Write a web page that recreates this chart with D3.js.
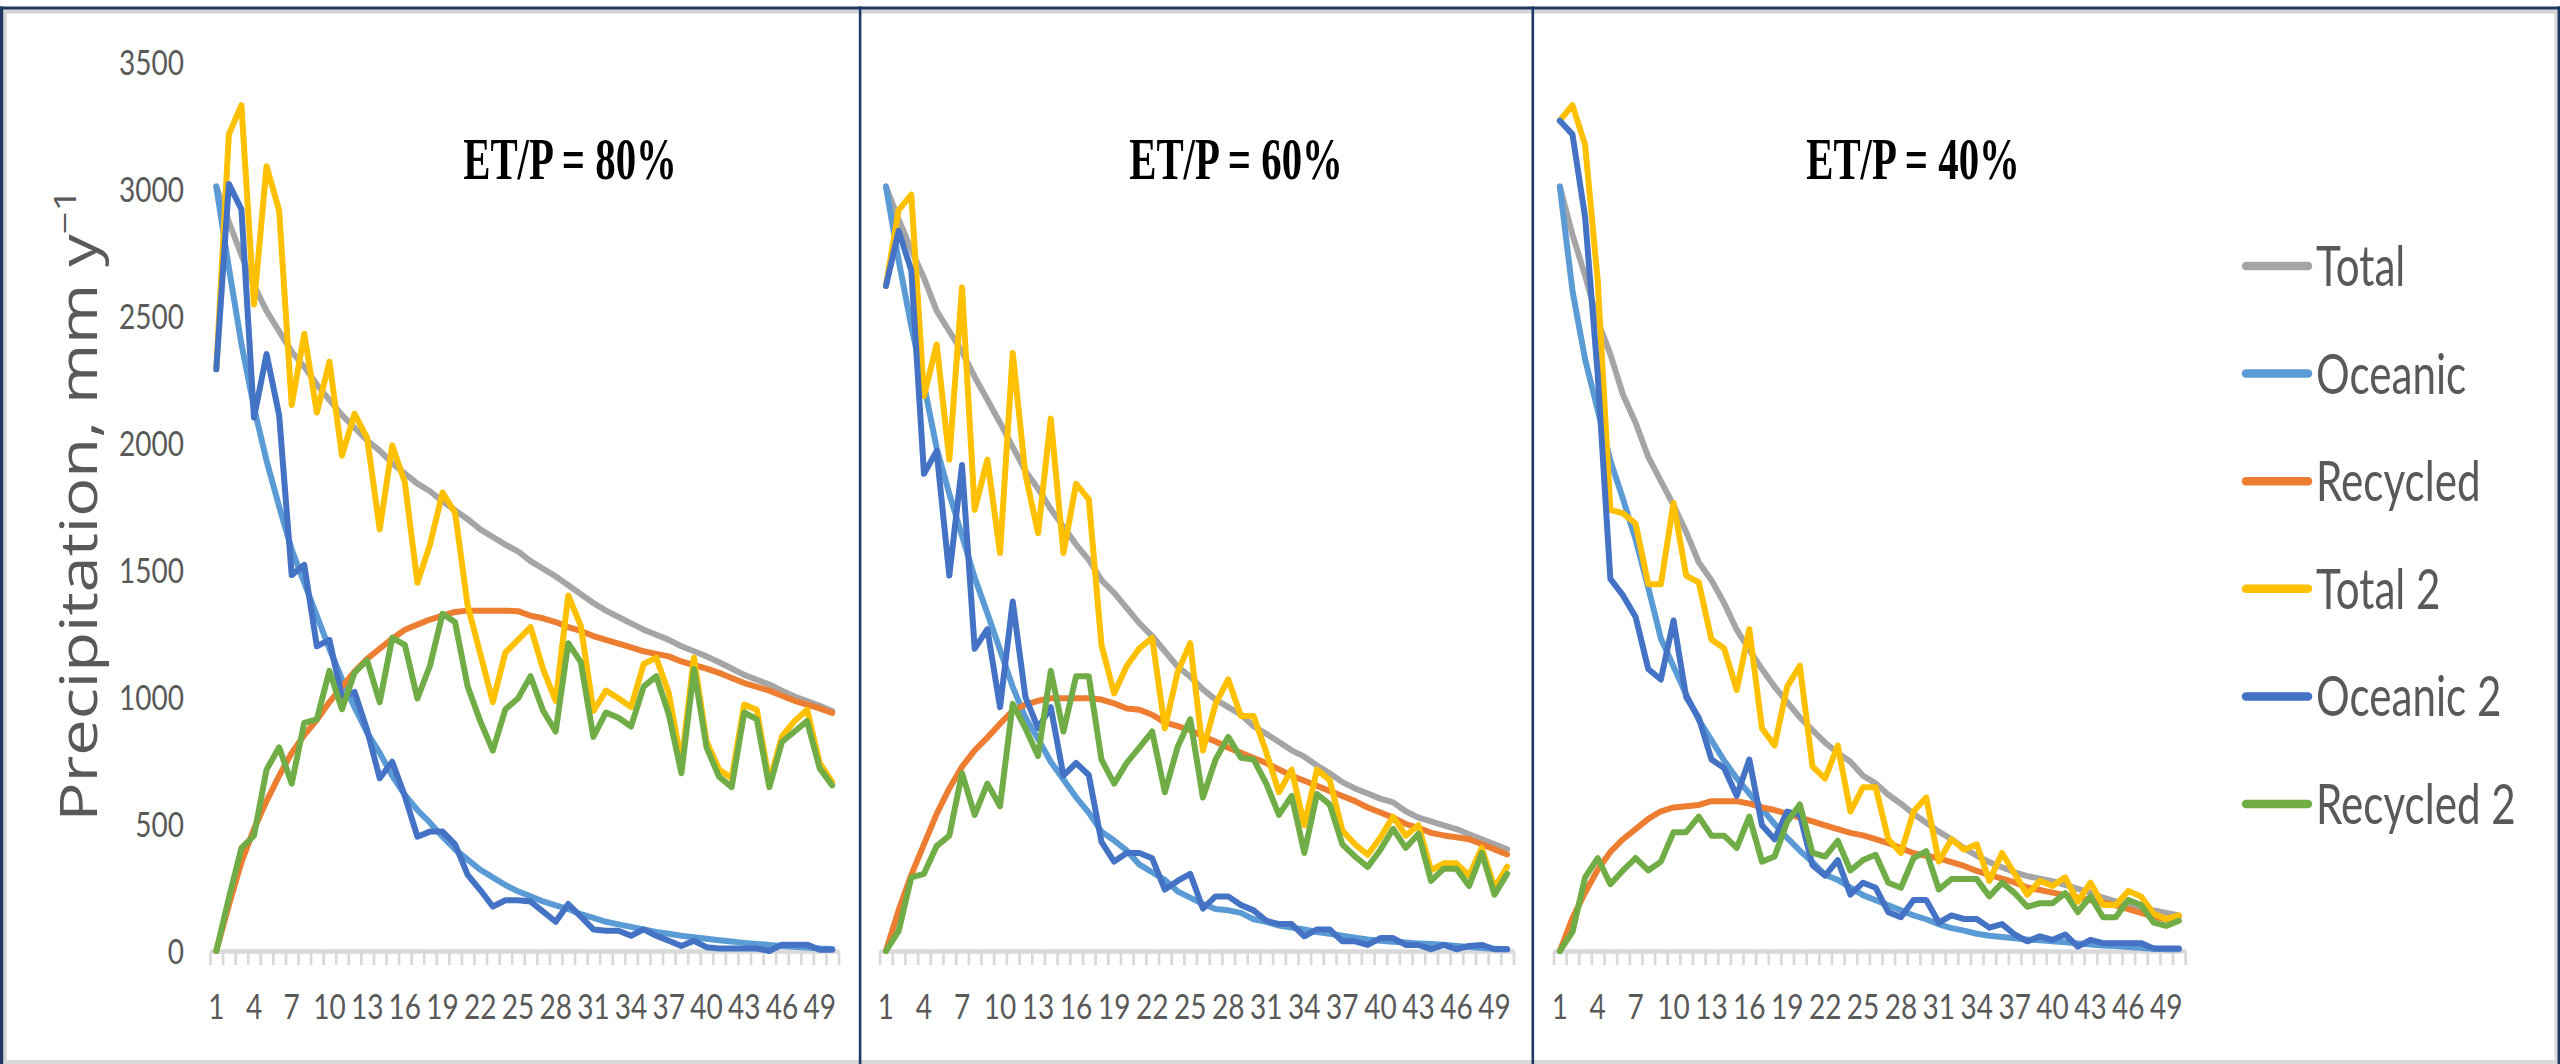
<!DOCTYPE html>
<html>
<head>
<meta charset="utf-8">
<script src="https://cdn.jsdelivr.net/npm/d3@7"></script>
<style>
  html, body { margin: 0; padding: 0; background: #ffffff; }
  svg { display: block; }
</style>
</head>
<body>
<svg id="chart" width="2560" height="1064"></svg>
<script>
// ---- categories and tick labels ----
const years = [1,2,3,4,5,6,7,8,9,10,11,12,13,14,15,16,17,18,19,20,21,22,23,24,25,
               26,27,28,29,30,31,32,33,34,35,36,37,38,39,40,41,42,43,44,45,46,47,48,49,50];
const xTickLabels = [1,4,7,10,13,16,19,22,25,28,31,34,37,40,43,46,49];
const yTickValues = [0,500,1000,1500,2000,2500,3000,3500];
const seriesNames = ["Total","Oceanic","Recycled","Total 2","Oceanic 2","Recycled 2"];
const panelTitles = ["ET/P = 80%","ET/P = 60%","ET/P = 40%"];

// ---- ET/P = 80% ----
const total80 = [3010,2870,2740,2620,2520,2440,2360,2300,2230,2170,2110,2060,2010,1970,1920,1880,1840,1810,1770,1735,
                 1700,1660,1630,1600,1573,1535,1505,1475,1440,1405,1370,1340,1315,1290,1265,1245,1225,1200,1180,1160,
                 1137,1112,1087,1068,1049,1025,1002,984,965,945];
const oceanic80 = [3010,2690,2390,2140,1930,1750,1580,1450,1320,1190,1070,960,860,780,690,615,555,505,450,400,
                   360,320,290,260,235,215,195,180,165,145,130,115,105,95,85,75,68,60,54,48,
                   42,37,32,28,24,20,17,14,10,8];
const recycled80 = [0,180,350,480,590,690,780,850,910,980,1040,1100,1150,1190,1230,1265,1285,1305,1320,1335,
                    1340,1340,1340,1340,1338,1320,1310,1295,1275,1260,1240,1225,1210,1195,1180,1170,1160,1140,1126,1112,
                    1095,1075,1055,1040,1025,1005,985,970,955,937];
const total2_80 = [2290,3215,3330,2545,3090,2915,2150,2430,2120,2320,1950,2115,2020,1660,1990,1845,1450,1600,1805,1725,
                   1360,1170,980,1175,1225,1275,1110,985,1400,1280,945,1025,995,960,1130,1155,1015,740,1155,825,
                   715,680,970,950,665,845,905,950,740,665];
const oceanic2_80 = [2290,3020,2920,2100,2350,2110,1480,1520,1200,1225,1000,1020,870,680,745,610,450,470,470,420,
                     300,240,175,200,200,195,155,115,185,135,85,80,80,60,85,60,40,20,40,15,
                     10,10,10,10,0,25,25,25,5,5];
const recycled2_80 = [0,208,406,454,714,802,659,898,912,1103,952,1096,1144,980,1233,1205,994,1123,1328,1294,
                      1041,905,789,952,994,1082,946,864,1212,1137,843,939,918,884,1041,1082,932,700,1110,802,
                      686,645,939,912,645,823,864,905,720,652];

// ---- ET/P = 60% ----
const total60 = [3010,2880,2760,2650,2520,2440,2360,2260,2170,2080,1985,1890,1820,1740,1670,1600,1540,1460,1410,1350,
                 1290,1240,1180,1120,1080,1030,990,960,930,885,855,823,790,765,730,700,665,640,620,600,
                 585,550,525,510,495,480,460,440,420,400];
const oceanic60 = [3010,2720,2460,2230,1980,1800,1635,1470,1330,1185,1040,920,835,745,675,605,545,470,435,395,
                   340,310,280,235,210,185,165,160,150,125,115,100,92,85,75,68,60,52,45,40,
                   36,33,30,28,25,20,16,12,9,7];
const recycled60 = [0,160,300,420,540,640,725,790,840,895,945,970,985,995,995,995,995,990,975,955,
                    950,930,900,885,870,845,825,800,780,760,740,715,690,670,650,630,610,590,565,545,
                    525,500,485,465,455,448,440,420,400,380];
const total2_60 = [2618,2917,2978,2185,2388,1934,2612,1737,1934,1567,2354,1877,1645,2096,1567,1839,1778,1205,1014,1123,
                   1192,1233,877,1096,1212,789,973,1069,925,925,782,625,714,495,714,673,474,420,379,447,
                   529,454,495,317,345,345,297,406,249,332];
const oceanic2_60 = [2618,2835,2680,1879,1968,1478,1913,1190,1267,960,1376,1000,877,960,690,740,693,430,352,386,
                     386,365,242,276,304,167,215,215,181,160,119,106,106,58,85,85,38,38,24,51,
                     51,24,24,7,24,7,20,24,7,7];
const recycled2_60 = [0,78,290,304,413,454,700,536,659,570,973,877,768,1103,864,1082,1082,754,659,741,
                      802,864,625,802,912,604,754,843,761,754,659,536,611,386,618,577,420,372,331,399,
                      481,406,461,276,324,324,256,386,222,304];

// ---- ET/P = 40% ----
const total40 = [3010,2820,2660,2480,2350,2190,2080,1945,1850,1755,1650,1530,1460,1370,1265,1185,1110,1040,980,920,
                 870,820,780,745,690,660,615,580,540,505,470,440,405,375,350,330,310,295,285,275,
                 260,245,230,210,195,185,170,160,150,140];
const oceanic40 = [3010,2600,2330,2130,1930,1780,1620,1430,1230,1120,1010,910,830,750,680,620,560,500,445,395,
                   350,300,280,250,220,200,180,160,140,125,105,90,80,68,60,55,50,45,42,38,
                   34,30,26,22,20,16,12,9,7,7];
const recycled40 = [0,130,230,320,390,440,480,520,550,565,570,575,590,590,590,580,565,555,540,525,
                    510,495,480,465,455,440,425,405,385,375,365,350,335,315,300,285,270,250,240,230,
                    220,210,200,190,180,165,150,135,125,135];
const total2_40 = [3269,3330,3174,2639,1737,1723,1683,1444,1444,1764,1478,1451,1226,1192,1028,1267,877,809,1041,1123,
                   727,679,809,549,645,645,440,386,549,604,352,440,399,420,276,386,304,222,276,256,
                   290,194,269,181,181,236,215,147,126,140];
const oceanic2_40 = [3269,3215,2890,2270,1465,1400,1315,1110,1069,1301,1000,918,754,720,611,754,495,440,549,536,
                     338,297,358,222,269,249,153,133,201,201,112,140,126,126,92,106,65,38,58,44,
                     65,17,44,31,31,31,31,10,10,10];
const recycled2_40 = [0,75,290,366,263,317,366,317,352,468,468,529,454,454,406,529,352,372,509,577,
                      386,372,434,317,358,379,269,249,366,393,242,283,283,283,215,269,228,174,188,188,
                      228,153,215,133,133,201,181,112,99,119];

const panelSeries = [
  [total80, oceanic80, recycled80, total2_80, oceanic2_80, recycled2_80],
  [total60, oceanic60, recycled60, total2_60, oceanic2_60, recycled2_60],
  [total40, oceanic40, recycled40, total2_40, oceanic2_40, recycled2_40]
];

// ---- styles and layout ----
const seriesColors = ["#A5A5A5","#5B9BD5","#ED7D31","#FFC000","#4472C4","#70AD47"];
const W = 2560, H = 1064;
const INK = "#595959";
const NAVY = "#1F3864";
const LIGHT = "#D9D9D9";
const panelLayout = [
  { x0: 210.0,  x1: 838.5,  titleX: 570 },
  { x0: 879.6,  x1: 1513.5, titleX: 1236 },
  { x0: 1553.5, x1: 2185.2, titleX: 1913 }
];
const LABEL_FONT = "Lato, 'Open Sans', sans-serif";

const svg = d3.select("#chart");
svg.append("rect").attr("width", W).attr("height", H).attr("fill", "#ffffff");

// value scale shared by the three panels
const y = d3.scaleLinear().domain([0, 3500]).range([951, 62]);

// ---- cell frames ----
const frame = svg.append("g");
frame.append("rect").attr("x", 0).attr("y", 9.5).attr("width", W).attr("height", 4).attr("fill", "#D4D4D4");
frame.append("rect").attr("x", 3).attr("y", 9.5).attr("width", 3.6).attr("height", H).attr("fill", "#D4D4D4");
frame.append("rect").attr("x", 0).attr("y", 1060).attr("width", W).attr("height", 4).attr("fill", LIGHT);
frame.append("rect").attr("x", 2554.5).attr("y", 9.5).attr("width", 3).attr("height", H).attr("fill", LIGHT);
const navyBars = [
  [0, 6.5, W, 3],
  [0, 6.5, 3.2, H],
  [858.8, 6.5, 2.6, H],
  [1531.5, 6.5, 2.6, H],
  [2557.5, 6.5, 2.5, H]
];
frame.selectAll("rect.cell").data(navyBars).join("rect")
  .attr("class", "cell")
  .attr("x", d => d[0]).attr("y", d => d[1])
  .attr("width", d => d[2]).attr("height", d => d[3])
  .attr("fill", NAVY);

// ---- panels ----
panelLayout.forEach((p, pi) => {
  const g = svg.append("g").attr("class", "panel");
  const x = d3.scaleBand().domain(years).range([p.x0, p.x1]).paddingInner(0).paddingOuter(0);
  const xEdge = d3.scaleLinear().domain([0.5, 50.5]).range([p.x0, p.x1]);

  // category axis: line with tick marks between categories
  const edgeAxis = g.append("g")
    .attr("transform", `translate(0,${y(0)})`)
    .call(d3.axisBottom(xEdge)
      .tickValues(d3.range(0.5, 51, 1))
      .tickSize(14).tickSizeOuter(0)
      .tickFormat(""));
  edgeAxis.select(".domain").attr("stroke", LIGHT).attr("stroke-width", 4.7);
  edgeAxis.selectAll(".tick line").attr("stroke", LIGHT).attr("stroke-width", 2.7);

  // category labels every third year
  const labelAxis = g.append("g")
    .attr("transform", `translate(0,${y(0)})`)
    .call(d3.axisBottom(x).tickValues(xTickLabels).tickSize(0).tickSizeOuter(0));
  labelAxis.select(".domain").remove();
  labelAxis.selectAll(".tick text")
    .attr("y", 68).attr("dy", 0)
    .attr("transform", "scale(0.8,1)")
    .attr("fill", INK)
    .style("font-family", LABEL_FONT)
    .style("font-size", "35px");

  // value axis labels on the first panel only
  if (pi === 0) {
    const yAxis = g.append("g")
      .attr("transform", "translate(184,0)")
      .call(d3.axisLeft(y).tickValues(yTickValues).tickFormat(d3.format("d"))
        .tickSize(0).tickPadding(0));
    yAxis.select(".domain").remove();
    yAxis.selectAll(".tick text")
      .attr("x", 0).attr("dy", "0.36em")
      .attr("transform", "scale(0.8,1)")
      .attr("fill", INK)
      .style("font-family", LABEL_FONT)
      .style("font-size", "35px");
  }

  // series lines
  const line = d3.line()
    .x((d, i) => x(years[i]) + x.bandwidth() / 2)
    .y(d => y(d));
  panelSeries[pi].forEach((vals, si) => {
    g.append("path")
      .datum(vals)
      .attr("d", line)
      .attr("fill", "none")
      .attr("stroke", seriesColors[si])
      .attr("stroke-width", 6)
      .attr("stroke-linejoin", "round")
      .attr("stroke-linecap", "round");
  });

  // panel heading
  g.append("text")
    .attr("transform", `translate(${p.titleX},179) scale(0.68,1)`)
    .attr("text-anchor", "middle")
    .attr("fill", "#000000")
    .style("font-family", "'Liberation Serif', 'Times New Roman', serif")
    .style("font-weight", "bold")
    .style("font-size", "60px")
    .text(panelTitles[pi]);
});

// ---- value axis title ----
const yTitle = svg.append("text")
  .attr("transform", "translate(96.7,505) scale(0.78,1) rotate(-90)")
  .attr("text-anchor", "middle")
  .attr("fill", INK)
  .style("font-family", "'Open Sans', 'Noto Sans', sans-serif")
  .style("font-size", "65px");
yTitle.append("tspan").text("Precipitation, mm y");
yTitle.append("tspan").attr("dy", -26).style("font-size", "40px").text("\u22121");

// ---- legend ----
const legend = svg.append("g").attr("class", "legend");
const legendTop = 266, legendStep = 107.6;
const items = legend.selectAll("g").data(seriesNames).join("g")
  .attr("transform", (d, i) => `translate(0,${legendTop + i * legendStep})`);
items.append("line")
  .attr("x1", 2246).attr("x2", 2308)
  .attr("y1", 0).attr("y2", 0)
  .attr("stroke", (d, i) => seriesColors[i])
  .attr("stroke-width", 8.5)
  .attr("stroke-linecap", "round");
items.append("text")
  .attr("transform", "translate(2316,20) scale(0.74,1)")
  .attr("fill", INK)
  .style("font-family", LABEL_FONT)
  .style("font-size", "57px")
  .text(d => d);
</script>
</body>
</html>
